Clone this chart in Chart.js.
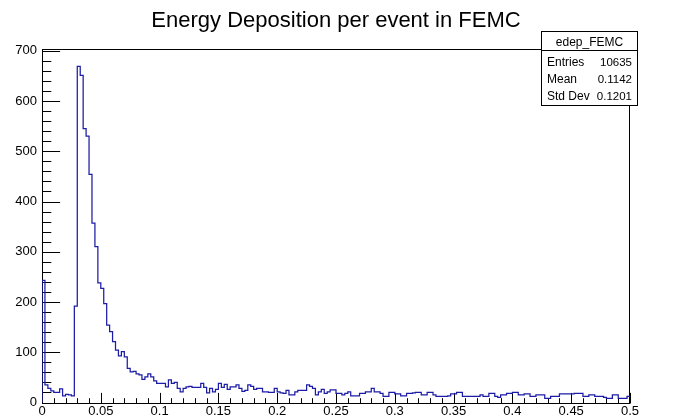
<!DOCTYPE html>
<html><head><meta charset="utf-8">
<script src="https://cdn.jsdelivr.net/npm/chart.js@4"></script>
<style>html,body{margin:0;padding:0;background:#fff;}canvas{display:block;}</style>
</head><body>
<canvas id="c" width="687" height="420"></canvas>
<script>
const titleText = 'Energy Deposition per event in FEMC';
const histName = 'edep_FEMC';
const xRange = [0, 0.5];
const yMax = 703.5;
const counts = [
  243, 35, 28, 23, 20, 20, 27, 13, 16, 15, 13,
  192, 669, 651, 545, 530, 454, 357, 310, 238, 227,
  197, 154, 141, 121, 104, 93, 101, 91, 68, 61,
  62, 57, 55, 46, 51, 57, 51, 43, 38, 38,
  38, 31, 45, 38, 40, 28, 21, 28, 31, 32,
  30, 30, 30, 38, 30, 19, 28, 21, 26, 38,
  30, 36, 26, 31, 31, 35, 28, 22, 24, 35,
  32, 26, 28, 28, 21, 21, 20, 20, 28, 21,
  19, 18, 24, 15, 15, 21, 24, 24, 24, 35,
  32, 28, 15, 21, 26, 18, 21, 25, 25, 18,
  18, 15, 18, 21, 13, 13, 13, 18, 18, 21,
  21, 28, 21, 21, 18, 12, 12, 20, 20, 17,
  17, 13, 13, 18, 18, 19, 20, 20, 15, 15,
  20, 20, 15, 12, 12, 12, 12, 13, 17, 17,
  20, 20, 12, 12, 12, 12, 12, 12, 15, 12,
  12, 18, 18, 12, 10, 15, 15, 18, 18, 20,
  20, 15, 15, 17, 17, 12, 12, 15, 15, 15,
  8, 8, 12, 12, 12, 17, 17, 17, 17, 17,
  18, 18, 18, 12, 12, 15, 15, 12, 12, 12,
  10, 8, 8, 15, 15, 8, 8, 8, 12
];
const xTicks = [0, 0.05, 0.1, 0.15, 0.2, 0.25, 0.3, 0.35, 0.4, 0.45, 0.5];
const yTicks = [0, 100, 200, 300, 400, 500, 600, 700];
const statLabels = ['Entries', 'Mean', 'Std Dev'];
const statValues = ['10635', '0.1142', '0.1201'];

const binWidth = (xRange[1] - xRange[0]) / counts.length;
const points = [{x: xRange[0], y: 0}];
counts.forEach((c, i) => points.push({x: xRange[0] + i * binWidth, y: c}));
points.push({x: xRange[1], y: counts[counts.length - 1]});

const FONT = 'Liberation Sans, Arial, Helvetica, sans-serif';

const rootFrame = {
  id: 'rootFrame',
  beforeDatasetsDraw(chart) {
    const ctx = chart.ctx;
    const a = chart.chartArea;
    const xs = chart.scales.x, ys = chart.scales.y;
    ctx.save();
    ctx.strokeStyle = '#000';
    ctx.lineWidth = 1;
    const L = Math.round(a.left) + 0.5, R = Math.round(a.right) - 0.5;
    const T = Math.round(a.top) + 0.5, B = Math.round(a.bottom) + 0.5;
    ctx.strokeRect(L, T, R - L, B - T);
    ctx.beginPath();
    const xMajorLen = 0.03 * (a.bottom - a.top);
    const xStep = xTicks[1] - xTicks[0];
    for (let k = 0; k < xTicks.length; k++) {
      const px = Math.round(xs.getPixelForValue(xTicks[k])) + 0.5;
      ctx.moveTo(px, B); ctx.lineTo(px, B - xMajorLen);
      if (k < xTicks.length - 1) {
        for (let m = 1; m < 5; m++) {
          const pm = Math.round(xs.getPixelForValue(xTicks[k] + m * xStep / 5)) + 0.5;
          ctx.moveTo(pm, B); ctx.lineTo(pm, B - xMajorLen / 2);
        }
      }
    }
    const yMajorLen = 0.03 * (a.right - a.left);
    const yStep = yTicks[1] - yTicks[0];
    for (let k = 0; k < yTicks.length; k++) {
      const py = Math.round(ys.getPixelForValue(yTicks[k])) + 0.5;
      ctx.moveTo(L, py); ctx.lineTo(L + yMajorLen, py);
      for (let m = 1; m < 5; m++) {
        const v = yTicks[k] + m * yStep / 5;
        if (v > yMax) break;
        const pm = Math.round(ys.getPixelForValue(v)) + 0.5;
        ctx.moveTo(L, pm); ctx.lineTo(L + yMajorLen / 2, pm);
      }
    }
    ctx.stroke();
    ctx.restore();
  },
  afterDraw(chart) {
    const ctx = chart.ctx;
    const a = chart.chartArea;
    ctx.save();
    ctx.fillStyle = '#000';
    ctx.textBaseline = 'alphabetic';
    ctx.textAlign = 'center';
    ctx.font = '22px ' + FONT;
    ctx.fillText(titleText, (a.left + a.right) / 2, 27.3);
    ctx.strokeStyle = '#000';
    ctx.lineWidth = 1;
    const bx = 541.5, by = 31.5, bw = 96, bh = 74, sep = 50.5;
    ctx.fillStyle = '#fff';
    ctx.fillRect(bx, by, bw, bh);
    ctx.strokeRect(bx, by, bw, bh);
    ctx.beginPath(); ctx.moveTo(bx, sep); ctx.lineTo(bx + bw, sep); ctx.stroke();
    ctx.fillStyle = '#000';
    ctx.font = '12px ' + FONT;
    ctx.textAlign = 'center';
    ctx.fillText(histName, bx + bw / 2, 45.5);
    const rows = [66.3, 83.3, 100.3];
    statLabels.forEach((lab, i) => {
      ctx.font = '12px ' + FONT;
      ctx.textAlign = 'left';
      ctx.fillText(lab, 547, rows[i]);
      ctx.font = '11.5px ' + FONT;
      ctx.textAlign = 'right';
      ctx.fillText(statValues[i], 632, rows[i]);
    });
    ctx.restore();
  }
};

new Chart(document.getElementById('c'), {
  type: 'line',
  data: {
    datasets: [{
      data: points,
      stepped: 'before',
      borderColor: '#1c1ca6',
      borderWidth: 1.25,
      pointRadius: 0,
      fill: false,
      tension: 0
    }]
  },
  options: {
    responsive: false,
    animation: false,
    devicePixelRatio: 1,
    layout: {padding: {left: 0, right: 57, top: 49, bottom: 0}},
    plugins: {
      legend: {display: false},
      tooltip: {enabled: false},
      title: {display: false}
    },
    scales: {
      x: {
        type: 'linear',
        min: xRange[0], max: xRange[1],
        afterBuildTicks: s => { s.ticks = xTicks.map(v => ({value: v})); },
        afterFit: s => { s.height = 17.5; },
        grid: {display: false, drawTicks: false},
        border: {display: false},
        ticks: {
          color: '#000', font: {family: FONT, size: 13}, padding: 1,
          autoSkip: false, maxRotation: 0,
          callback: v => String(v)
        }
      },
      y: {
        type: 'linear',
        min: 0, max: yMax,
        afterBuildTicks: s => { s.ticks = yTicks.map(v => ({value: v})); },
        afterFit: s => { s.width = 42; },
        grid: {display: false, drawTicks: false},
        border: {display: false},
        ticks: {
          color: '#000', font: {family: FONT, size: 13}, padding: 5,
          callback: v => String(v)
        }
      }
    }
  },
  plugins: [rootFrame]
});
</script>
</body></html>
